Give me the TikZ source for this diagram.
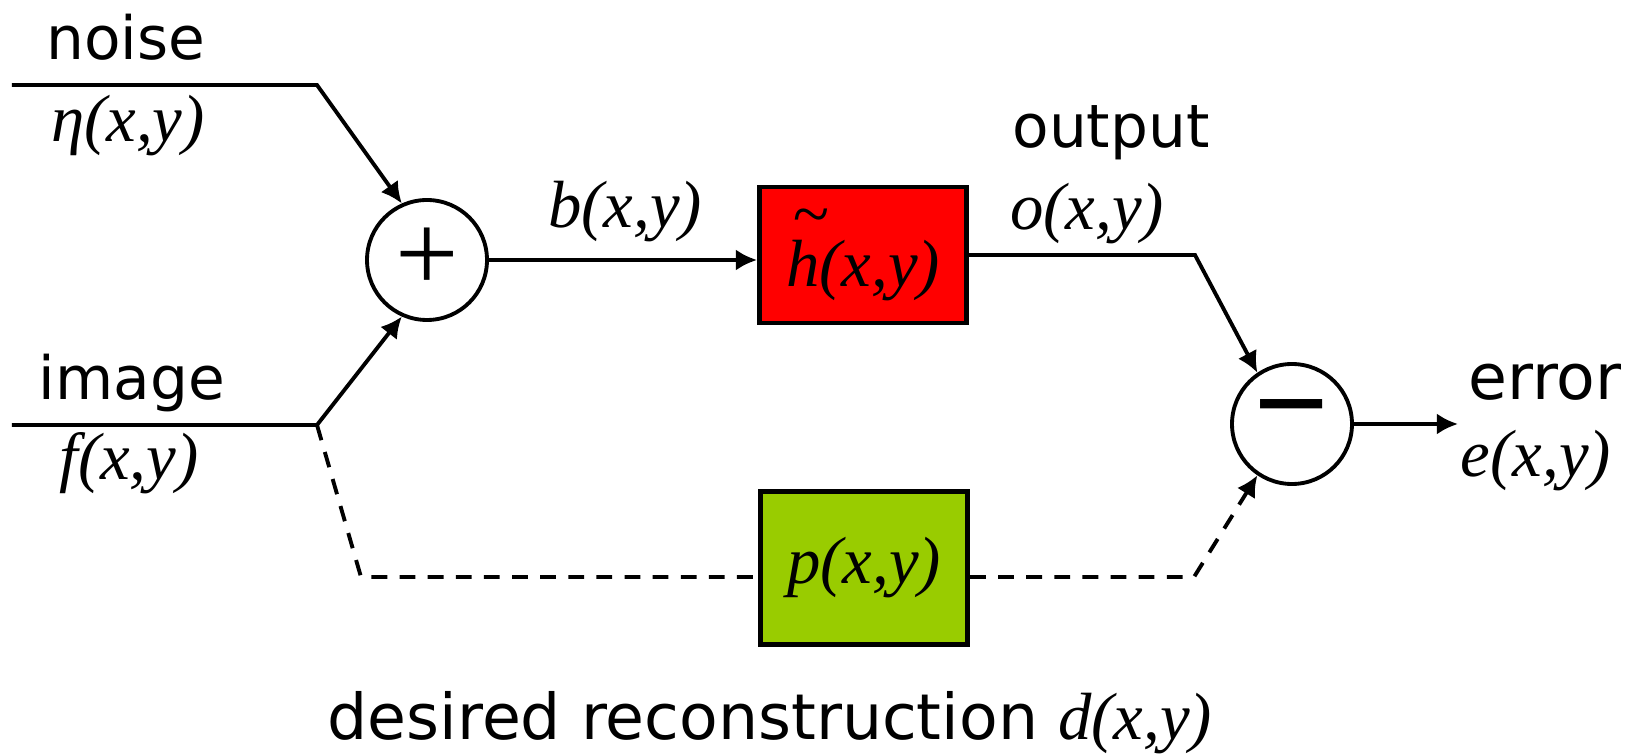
\documentclass[tikz,border=0pt]{standalone}
\usepackage{fontspec}
\setmainfont{DejaVu Sans}
\newfontfamily\fnfont{Liberation Serif}
\usetikzlibrary{arrows.meta,positioning,calc}

\definecolor{filterred}{RGB}{255,0,0}
\definecolor{filtergreen}{RGB}{153,204,0}

\tikzset{
  word/.style={font=\fontsize{17}{17}\selectfont, inner sep=0pt, anchor=base},
  fn/.style={font=\fnfont\itshape\fontsize{19}{19}\selectfont, inner sep=0pt, anchor=base},
  sumnode/.style={circle, draw, line width=1.1pt, minimum size=1.2cm, inner sep=0pt,
                  font=\fnfont\fontsize{32}{32}\selectfont},
  filterbox/.style={draw, line width=1.4pt, minimum width=2.07cm, inner sep=0pt,
                    font=\fnfont\itshape\fontsize{19}{19}\selectfont},
  sig/.style={line width=1.1pt, -{Latex[length=6pt,width=6pt]}},
  dashwire/.style={line width=1.1pt, dash pattern=on 4.5pt off 3.5pt},
}

\begin{document}
\begin{tikzpicture}
  \useasboundingbox (0,0) rectangle (16.42,-7.54);

  % Inputs
  \node[word] (noise) at (1.26,-0.60) {noise};
  \node[fn] (eta) at (1.28,-1.42) {η(x,y)};
  \node[word] (image) at (1.32,-4.00) {image};
  \node[fn] (f) at (1.29,-4.80) {f(x,y)};
  \coordinate (nstart) at (0.12,-0.85);
  \coordinate (nbend) at (3.17,-0.85);
  \coordinate (istart) at (0.12,-4.25);
  \coordinate (ibend) at (3.17,-4.25);

  % Adder and subtractor
  \node[sumnode] (plus) at (4.27,-2.60) {+};
  \node[sumnode, font=\fnfont\bfseries\fontsize{38}{38}\selectfont] (minus) at (12.92,-4.24) {−};

  % Filters
  \node[filterbox, fill=filterred, minimum height=1.36cm] (hbox) at (8.63,-2.55)
    {\makebox[0pt][l]{\raisebox{0.74em}{\kern0.1em\textasciitilde}}h(x,y)};
  \node[filterbox, fill=filtergreen, minimum height=1.53cm] (pbox) at (8.64,-5.68) {p(x,y)};

  % Labels
  \node[fn] (b) at (6.25,-2.28) {b(x,y)};
  \node[word] (output) at (11.11,-1.48) {output};
  \node[fn] (o) at (10.87,-2.30) {o(x,y)};
  \node[word, font=\fontsize{18}{18}\selectfont] (error) at (15.45,-4.00) {error};
  \node[fn] (e) at (15.36,-4.77) {e(x,y)};
  \node[word, anchor=base west, font=\fontsize{18}{18}\selectfont] (desired) at (3.27,-7.40)
    {desired reconstruction {\fnfont\itshape\fontsize{19}{19}\selectfont d(x,y)}};

  % Connections
  \coordinate (obend) at (11.95,-2.55);
  \coordinate (dl) at (3.61,-5.77);
  \coordinate (dr) at (11.94,-5.77);
  \coordinate (eend) at (14.58,-4.24);

  \draw[sig] (nstart) -- (nbend) -- (plus.114);
  \draw[sig] (istart) -- (ibend) -- (plus.246);
  \draw[sig] (plus.east) -- (plus.east -| hbox.west);
  \draw[sig] (hbox.east) -- (obend) -- (minus.124);
  \draw[sig] (minus.east) -- (eend);
  \draw[dashwire] (ibend) -- (dl) -- (dl -| pbox.west);
  \draw[dashwire, -{Latex[length=6pt,width=6pt]}] (pbox.east |- dr) -- (dr) -- (minus.236);
\end{tikzpicture}
\end{document}
